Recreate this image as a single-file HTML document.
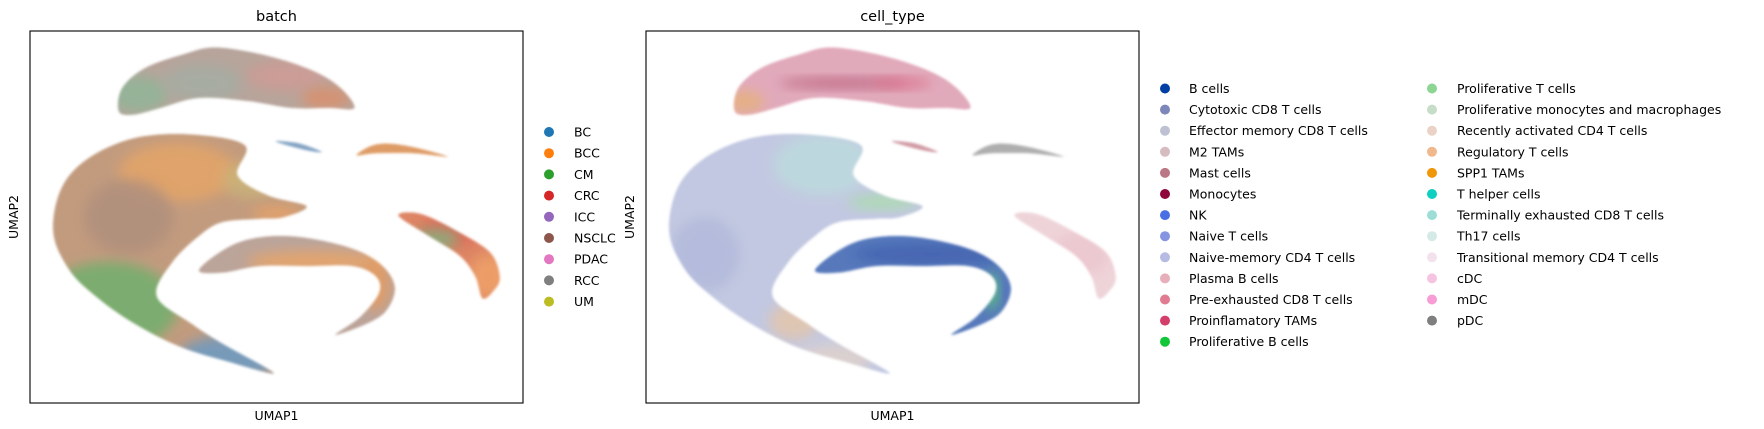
<!DOCTYPE html>
<html><head><meta charset="utf-8">
<style>
html,body{margin:0;padding:0;background:#fff;}
svg{display:block;font-family:"DejaVu Sans","Liberation Sans",sans-serif;}
</style></head>
<body>
<svg id="fig" width="1764" height="429" viewBox="0 0 1764 429" xmlns="http://www.w3.org/2000/svg">
<defs>
<filter id="soft" x="-10%" y="-10%" width="120%" height="120%"><feGaussianBlur stdDeviation="1.4"/></filter>
<filter id="softer" x="-30%" y="-30%" width="160%" height="160%"><feGaussianBlur stdDeviation="6"/></filter>
</defs>
</svg>
<script>
// ---- cluster outlines (UMAP1 in 0-100, UMAP2 in 0-100 with axis drawn top-down) ----
const clusterNames = ["myeloid","tcell","bcell","plasma","mast","pdc"];
const myeloidX = [18,18.7,23.4,31.2,37.8,48.3,57.6,63,65.8,60.7,53,44.4,34.3,26.5,21.1];
const myeloidY = [21.6,15.3,9.9,6.2,4.4,6.7,10.8,15.3,20.7,20.7,20.7,18.9,18,20.7,22.5];
const tcellX = [4.7,6.3,11.7,21.1,32.7,43.6,42.1,48.3,56.1,51.4,46.7,39,34.3,28.8,25.7,32.7,39,49.5,40.5,30.4,21.1,13.3,7.9];
const tcellY = [54.2,42.4,34.3,28.8,27.8,30.7,38.8,44.2,47.1,50.1,50.5,51.4,55.1,62.3,71.3,78.6,84,92,89,84.9,78.6,71.3,64.1];
const bcellX = [34.3,42.1,52.2,63.8,70.8,74,72.4,68.5,61.9,67,70.8,70.1,65.4,56.1,46.7,39];
const bcellY = [64.1,56.9,55.1,57.8,62.3,68.6,75,78.6,81.7,76.8,70.4,65.9,63.2,63.2,63.2,65];
const plasmaX = [74.7,79.4,87.2,93.4,95.3,94.2,91.8,90.3,87.2,80.9];
const plasmaY = [49.6,49.2,54.2,59.6,66,69.6,71.9,66,60.5,55.1];
const mastX = [49.8,54.5,59.2,56.1];
const mastY = [29.7,30.2,32.5,32.1];
const pdcX = [66.2,70.1,76.3,84.8,77.8,70.1];
const pdcY = [33.4,30.5,30.8,33.8,32.9,32.9];
const outlinesX = [myeloidX,tcellX,bcellX,plasmaX,mastX,pdcX];
const outlinesY = [myeloidY,tcellY,bcellY,plasmaY,mastY,pdcY];

// base colours per cluster for each panel
const batchBase = ["#ab958a","#b88a68","#b09488","#d8704a","#6c93b8","#d88a4a"];
const cellBase  = ["#dc9cb0","#b8bfdc","#3a62b0","#eccdd3","#c88894","#a0a0a0"];

// overlay colour patches: cluster index, x, y, rx, ry, colour
const batchPatchC = [0,0,0,0,1,1,1,1,1,1,2,2,3,3,3];
const batchPatchX = [22,35,52,60,30,20,16,40,45,50,58,70,85,93,82];
const batchPatchY = [17,14,12,18,38,50,74,88,40,49,62,68,54,66,56];
const batchPatchRX = [6,8,8,5,12,9,14,10,6,5,14,3,6,4,5];
const batchPatchRY = [5,5,4,3,8,10,12,6,5,2,3,7,4,6,3];
const batchPatchCol = ["#7aaa86","#94a094","#c88a82","#d87a50","#e2964c","#a07a66","#52a452","#4a8abe","#c0a860","#e8944a","#e8944a","#e58a40","#d84a3c","#ee9450","#6aa86a"];

const cellPatchC = [0,0,0,1,1,1,1,1,2,2,3];
const cellPatchX = [20,40,52,36,48,30,38,12,58,70,88];
const cellPatchY = [19,14,14,36,46,78,88,60,60,70,60];
const cellPatchRX = [4,13,6,10,7,5,8,7,16,1.5,6];
const cellPatchRY = [3,1.6,1.6,8,2,5,4,10,3,5,6];
const cellPatchCol = ["#e2a460","#b04868","#d85a7c","#b0d6d8","#98da98","#e2bc98","#dccac2","#a4acd4","#1e48a2","#40c45a","#e8bcc5"];

// legend data
const batchLabels = ["BC","BCC","CM","CRC","ICC","NSCLC","PDAC","RCC","UM"];
const batchColors = ["#1f77b4","#ff7f0e","#2ca02c","#d62728","#9467bd","#8c564b","#e377c2","#7f7f7f","#bcbd22"];
const cellLabels = ["B cells","Cytotoxic CD8 T cells","Effector memory CD8 T cells","M2 TAMs","Mast cells","Monocytes","NK","Naive T cells","Naive-memory CD4 T cells","Plasma B cells","Pre-exhausted CD8 T cells","Proinflamatory TAMs","Proliferative B cells","Proliferative T cells","Proliferative monocytes and macrophages","Recently activated CD4 T cells","Regulatory T cells","SPP1 TAMs","T helper cells","Terminally exhausted CD8 T cells","Th17 cells","Transitional memory CD4 T cells","cDC","mDC","pDC"];
const cellColors = ["#023fa5","#7d87b9","#bec1d4","#d6bcc0","#bb7784","#8e063b","#4a6fe3","#8595e1","#b5bbe3","#e6afb9","#e07b91","#d33f6a","#11c638","#8dd593","#c6dec7","#ead3c6","#f0b98d","#ef9708","#0fcfc0","#9cded6","#d5eae7","#f3e1eb","#f6c4e1","#f79cd4","#7f7f7f"];

const NS = "http://www.w3.org/2000/svg";
const svg = document.getElementById('fig');
function mk(tag, attrs, parent){ const e=document.createElementNS(NS,tag); for(const k in attrs) e.setAttribute(k,attrs[k]); (parent||svg).appendChild(e); return e; }

function smoothPath(px, py){
  const n=px.length; let d='M'+px[0].toFixed(1)+' '+py[0].toFixed(1);
  for(let i=0;i<n;i++){
    const p0=(i-1+n)%n, p1=i, p2=(i+1)%n, p3=(i+2)%n;
    const c1x=px[p1]+(px[p2]-px[p0])/6, c1y=py[p1]+(py[p2]-py[p0])/6;
    const c2x=px[p2]-(px[p3]-px[p1])/6, c2y=py[p2]-(py[p3]-py[p1])/6;
    d+='C'+c1x.toFixed(1)+' '+c1y.toFixed(1)+' '+c2x.toFixed(1)+' '+c2y.toFixed(1)+' '+px[p2].toFixed(1)+' '+py[p2].toFixed(1);
  }
  return d+'Z';
}

function drawPanel(id, x0, title, base, pC, pX, pY, pRX, pRY, pCol){
  const y0=31, w=493, h=372;
  const sx = u => x0 + u/100*w;
  const sy = v => y0 + v/100*h;
  const g = mk('g',{});
  
  
  const t = mk('text',{x:x0+w/2,y:21,'text-anchor':'middle','font-size':'14.5',fill:'#000'},g);
  t.textContent = title;
  
  
  const plot = mk('g',{filter:'url(#soft)'},g);
  
  
  for(let c=0;c<outlinesX.length;c++){
    const d = smoothPath(outlinesX[c].map(sx), outlinesY[c].map(sy));
    const cid = id+'-clip-'+c;
    const cp = mk('clipPath',{id:cid},svg.querySelector('defs'));
    mk('path',{d:d},cp);
    const cg = mk('g',{'clip-path':'url(#'+cid+')',opacity:'0.85'},plot);
    
    
    const p = mk('path',{d:d,fill:base[c]},cg);
    
    
    for(let k=0;k<pC.length;k++){
      if(pC[k]!==c) continue;
      const el = mk('ellipse',{cx:sx(pX[k]),cy:sy(pY[k]),rx:pRX[k]/100*w,ry:pRY[k]/100*h,fill:pCol[k],'fill-opacity':'0.8',filter:'url(#softer)'},cg);
      
      
    }
  }
  const box = mk('rect',{x:x0,y:y0,width:w,height:h,fill:'none',stroke:'#000','stroke-width':'1.1'},g);
  
  
  const xl = mk('text',{x:x0+w/2,y:420,'text-anchor':'middle','font-size':'12.5',fill:'#000'},g);
  xl.textContent='UMAP1';
  
  
  const yx = x0-12, yy = y0+h/2;
  const yl = mk('text',{x:yx,y:yy,'text-anchor':'middle','font-size':'12.5',fill:'#000',transform:'rotate(-90 '+yx+' '+yy+')'},g);
  yl.textContent='UMAP2';
  
  
}

drawPanel('batch', 30, 'batch', batchBase, batchPatchC, batchPatchX, batchPatchY, batchPatchRX, batchPatchRY, batchPatchCol);
drawPanel('cell-type', 646, 'cell_type', cellBase, cellPatchC, cellPatchX, cellPatchY, cellPatchRX, cellPatchRY, cellPatchCol);

function legend(id, labels, colors, startY, step, cols){
  const g = mk('g',{});
  
  
  const perCol = Math.ceil(labels.length/cols.length);
  for(let i=0;i<labels.length;i++){
    const col = cols[Math.floor(i/perCol)];
    const row = i % perCol;
    const y = startY + row*step;
    const ent = mk('g',{},g);
    
    
    mk('circle',{cx:col[0],cy:y,r:5,fill:colors[i]},ent);
    const t = mk('text',{x:col[1],y:y+4.5,'font-size':'12.5',fill:'#000'},ent);
    t.textContent = labels[i];
  }
}
legend('batch', batchLabels, batchColors, 132, 21.2, [[549,574]]);
legend('cell-type', cellLabels, cellColors, 88.5, 21.1, [[1165,1189],[1432,1457]]);
</script>
</body></html>
